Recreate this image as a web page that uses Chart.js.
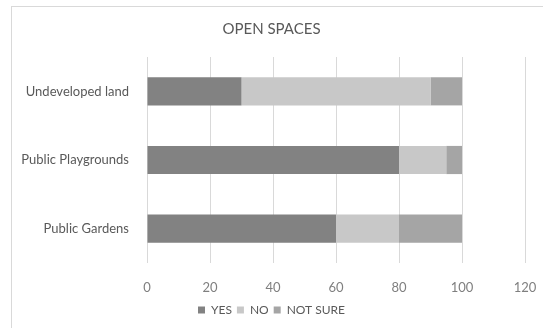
<!DOCTYPE html>
<html>
<head>
<meta charset="utf-8">
<script src="https://cdn.jsdelivr.net/npm/chart.js@4"></script>
<style>
  html, body { margin: 0; padding: 0; background: #fff; }
  #wrap { position: relative; width: 543px; height: 328px; overflow: hidden; }
  #frame { position: absolute; left: 11px; top: 6px; width: 560px; height: 360px; border: 1px solid #d9d9d9; box-sizing: border-box; }
  #chart { position: absolute; left: 0; top: 0; }
</style>
</head>
<body>
<div id="wrap">
  <div id="frame"></div>
  <canvas id="chart" width="543" height="328"></canvas>
</div>
<script>
// data
const categories = ['Undeveloped land', 'Public Playgrounds', 'Public Gardens'];
const yesValues = [30, 80, 60];
const noValues = [60, 15, 20];
const notSureValues = [10, 5, 20];
const xTicks = [0, 20, 40, 60, 80, 100, 120];

const textColor = '#7f7f7f';
const gridColor = '#d9d9d9';
const font = "Lato, 'DejaVu Sans', sans-serif";

new Chart(document.getElementById('chart'), {
  type: 'bar',
  data: {
    labels: categories,
    datasets: [
      { label: 'YES', data: yesValues, backgroundColor: '#828282' },
      { label: 'NO', data: noValues, backgroundColor: '#c8c8c8' },
      { label: 'NOT SURE', data: notSureValues, backgroundColor: '#a5a5a5' }
    ]
  },
  options: {
    indexAxis: 'y',
    responsive: false,
    animation: false,
    barPercentage: 0.41,
    categoryPercentage: 1,
    layout: { padding: { left: 18, right: 18, top: 0, bottom: 2 } },
    scales: {
      x: {
        stacked: true,
        min: 0,
        max: 120,
        afterBuildTicks: (axis) => {
          axis.ticks = xTicks.map(v => ({ value: v }));
        },
        afterFit: (axis) => {
          axis.paddingLeft = 0;
          axis.paddingRight = 0;
          axis.height = 36;
        },
        grid: { color: gridColor, drawTicks: false },
        border: { display: false },
        ticks: { color: textColor, padding: 17, font: { family: font, size: 13 } }
      },
      y: {
        stacked: true,
        grid: { display: false },
        border: { display: false },
        ticks: { color: '#595959', padding: 10, font: { family: font, size: 13 } },
        afterFit: (axis) => { axis.width = 129; }
      }
    },
    plugins: {
      title: {
        display: true,
        text: 'OPEN SPACES',
        color: '#595959',
        padding: { top: 20, bottom: 19 },
        font: { family: font, size: 15, weight: 'normal' }
      },
      legend: {
        position: 'bottom',
        labels: {
          color: '#595959',
          boxWidth: 7,
          boxHeight: 7,
          padding: 5,
          font: { family: font, size: 12 }
        }
      },
      tooltip: { enabled: false }
    }
  }
});
</script>
</body>
</html>
